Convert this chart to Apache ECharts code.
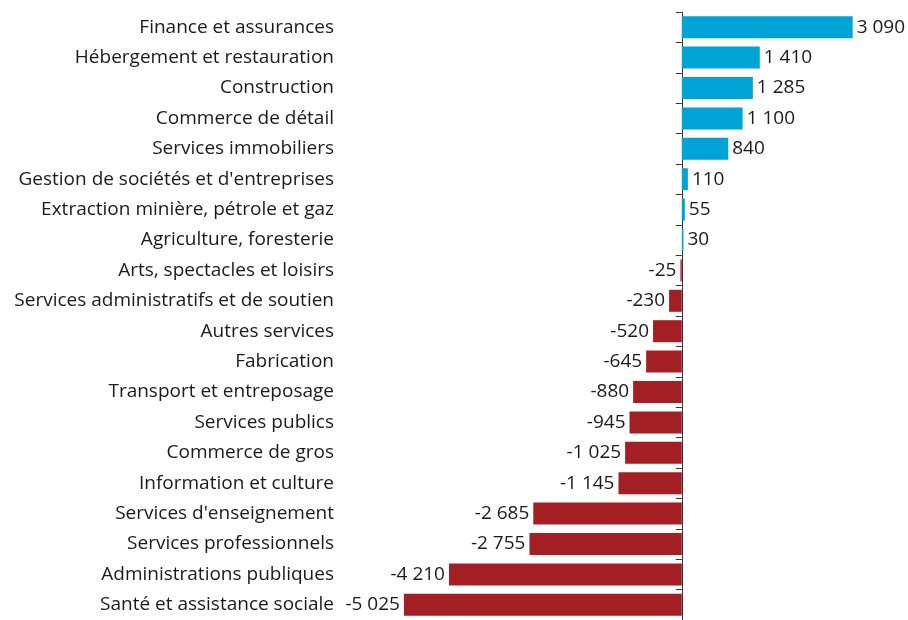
<!DOCTYPE html>
<html>
<head>
<meta charset="utf-8">
<script src="https://cdn.jsdelivr.net/npm/echarts@6/dist/echarts.min.js"></script>
<style>
  html, body { margin: 0; padding: 0; background: #fff; }
  #chart { width: 908px; height: 620px; }
</style>
</head>
<body>
<div id="chart"></div>
<script>
// secteurs, du plus grand gain à la plus grande perte
const categories = [
  'Finance et assurances',
  'Hébergement et restauration',
  'Construction',
  'Commerce de détail',
  'Services immobiliers',
  "Gestion de sociétés et d'entreprises",
  'Extraction minière, pétrole et gaz',
  'Agriculture, foresterie',
  'Arts, spectacles et loisirs',
  'Services administratifs et de soutien',
  'Autres services',
  'Fabrication',
  'Transport et entreposage',
  'Services publics',
  'Commerce de gros',
  'Information et culture',
  "Services d'enseignement",
  'Services professionnels',
  'Administrations publiques',
  'Santé et assistance sociale'
];
const values = [3090, 1410, 1285, 1100, 840, 110, 55, 30, -25, -230, -520, -645, -880, -945, -1025, -1145, -2685, -2755, -4210, -5025];

const posColor = '#00A3D6';
const negColor = '#A31F24';
const font = 'Open Sans';

function fmt(v) {
  const s = String(Math.abs(v)).replace(/\B(?=(\d{3})+(?!\d))/g, ' ');
  return (v < 0 ? '-' : '') + s;
}

const chart = echarts.init(document.getElementById('chart'));

chart.setOption({
  animation: false,
  grid: { left: 350, top: 12, width: 553, height: 610, containLabel: false },
  xAxis: {
    type: 'value',
    min: -6000,
    max: 4000,
    show: false
  },
  yAxis: [
    {
      type: 'category',
      data: categories,
      inverse: true,
      position: 'left',
      axisLine: { show: false, onZero: false },
      axisTick: { show: false },
      axisLabel: { fontFamily: font, fontSize: 19, color: '#1a1a1a', margin: 16 }
    },
    {
      type: 'category',
      data: categories,
      inverse: true,
      position: 'left',
      axisLine: { show: true, onZero: true, lineStyle: { color: '#333', width: 1 } },
      axisTick: { show: true, length: 6, lineStyle: { color: '#333' } },
      axisLabel: { show: false }
    }
  ],
  series: [{
    type: 'bar',
    yAxisIndex: 0,
    barWidth: 22,
    data: values.map(v => ({
      value: v,
      itemStyle: { color: v >= 0 ? posColor : negColor },
      label: { position: v >= 0 ? 'right' : 'left' }
    })),
    label: {
      show: true,
      fontFamily: font,
      fontSize: 19,
      color: '#1a1a1a',
      distance: 4,
      formatter: p => fmt(p.value)
    }
  }]
});
</script>
</body>
</html>
